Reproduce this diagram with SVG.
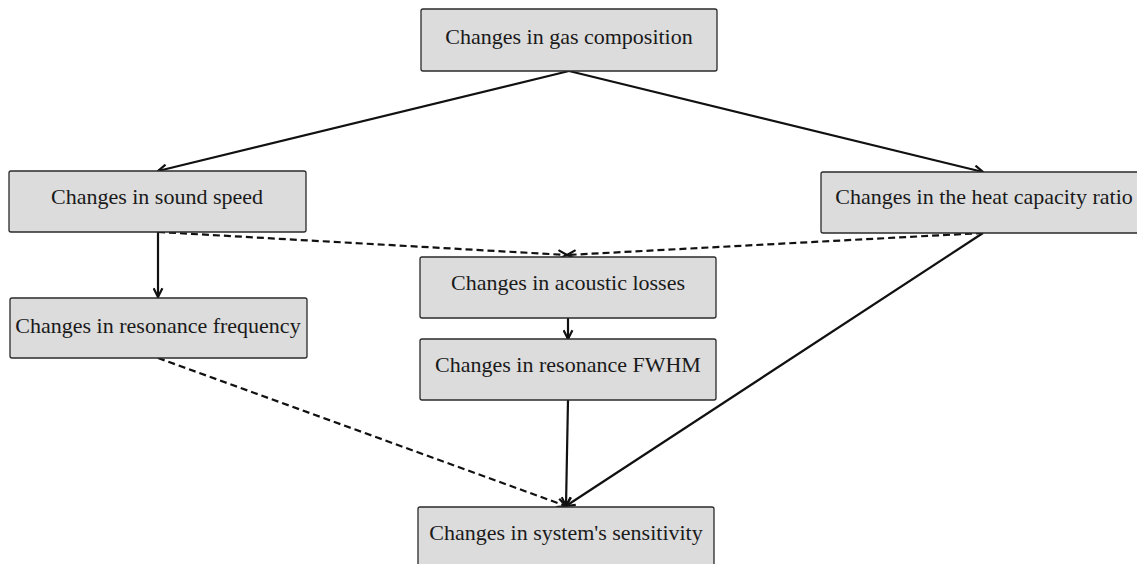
<svg xmlns="http://www.w3.org/2000/svg" width="1137" height="564" viewBox="0 0 1137 564">
<defs>
<style>
.box{fill:#dcdcdc;stroke:#2a2a2a;stroke-width:1.3}
.lbl{font-family:"Liberation Serif","Times New Roman",serif;font-size:22px;fill:#1a1a1a;text-anchor:middle}
.c{fill:none;stroke:#111;stroke-width:2.2}
.d{stroke-dasharray:7 4}
</style>
<marker id="ah" viewBox="0 0 10 10" refX="9" refY="5" markerWidth="11" markerHeight="11" markerUnits="userSpaceOnUse" orient="auto">
<path d="M1,1 L9,5 L1,9" fill="none" stroke="#111" stroke-width="2"/>
</marker>
</defs>
<rect width="1137" height="564" fill="#fff"/>
<g id="connectors">
<line class="c" x1="569" y1="71" x2="158" y2="171" marker-end="url(#ah)"/>
<line class="c" x1="569" y1="71" x2="983" y2="172" marker-end="url(#ah)"/>
<line class="c" x1="158" y1="232" x2="158" y2="297" marker-end="url(#ah)"/>
<line class="c d" x1="158" y1="232" x2="567" y2="255" marker-end="url(#ah)"/>
<line class="c d" x1="983" y1="233" x2="567" y2="255" marker-end="url(#ah)"/>
<line class="c" x1="568" y1="318" x2="568" y2="339" marker-end="url(#ah)"/>
<line class="c" x1="568" y1="400" x2="566" y2="506" marker-end="url(#ah)"/>
<line class="c" x1="983" y1="233" x2="566" y2="506" marker-end="url(#ah)"/>
<line class="c d" x1="158" y1="358" x2="566" y2="506" marker-end="url(#ah)"/>
</g>
<g id="n-gas"><rect class="box" x="421" y="9" width="296" height="62" rx="2"/><text class="lbl" x="569" y="44">Changes in gas composition</text></g>
<g id="n-sound"><rect class="box" x="9" y="171" width="297" height="61" rx="2"/><text class="lbl" x="157" y="204">Changes in sound speed</text></g>
<g id="n-heat"><rect class="box" x="821" y="172" width="322" height="61" rx="2"/><text class="lbl" x="984" y="204">Changes in the heat capacity ratio</text></g>
<g id="n-acoustic"><rect class="box" x="420" y="257" width="296" height="61" rx="2"/><text class="lbl" x="568" y="290">Changes in acoustic losses</text></g>
<g id="n-fwhm"><rect class="box" x="420" y="339" width="296" height="61" rx="2"/><text class="lbl" x="568" y="372">Changes in resonance FWHM</text></g>
<g id="n-freq"><rect class="box" x="10" y="298" width="297" height="60" rx="2"/><text class="lbl" x="158" y="333">Changes in resonance frequency</text></g>
<g id="n-sens"><rect class="box" x="418" y="507" width="296" height="64" rx="2"/><text class="lbl" x="566" y="540">Changes in system's sensitivity</text></g>
</svg>
